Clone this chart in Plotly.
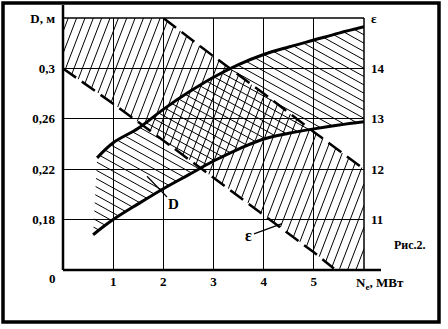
import numpy as np
import plotly.graph_objects as go

# ---- data ----
# D (diameter, m) band: upper and lower solid curves
N_d_upper = [0.68, 1.0, 1.5, 2.0, 2.5, 3.0, 3.5, 4.0, 4.5, 5.0, 5.5, 6.0]
D_upper = [0.229, 0.241, 0.2525, 0.2675, 0.281, 0.293, 0.303, 0.311, 0.317, 0.3225, 0.328, 0.333]
N_d_lower = [0.6, 1.0, 1.5, 2.0, 2.5, 3.0, 3.5, 4.0, 4.5, 5.0, 5.5, 6.0]
D_lower = [0.168, 0.180, 0.1925, 0.2045, 0.2155, 0.2265, 0.236, 0.244, 0.2485, 0.252, 0.255, 0.2576]

# epsilon band: upper and lower dashed lines
N_e_upper = [2.0, 3.0, 4.0, 5.0, 6.0]
E_upper = [15.0, 14.24, 13.5, 12.74, 12.0]
N_e_lower = [0.0, 1.0, 2.0, 3.0, 4.0, 5.0, 5.4]
E_lower = [14.0, 13.3, 12.57, 11.83, 11.1, 10.35, 10.03]

# axes
x_range = [0, 6]
d_range = [0.14, 0.34]
e_range = [10, 15]
x_ticks = [1, 2, 3, 4, 5]
x_labels = ["1", "2", "3", "4", "5"]
x_title = "N<sub>e</sub>, МВт"
d_ticks = [0.18, 0.22, 0.26, 0.30, 0.34]
d_labels = ["0,18", "0,22", "0,26", "0,3", "D, м"]
d_origin_label = "0"
e_ticks = [11, 12, 13, 14, 15]
e_labels = ["11", "12", "13", "14", "ε"]

# ---- layout geometry (pixels) ----
W, H = 448, 329
PL, PR, PT, PB = 63, 364, 18, 270


def to_px(x, y, yr):
    px = PL + (np.asarray(x, float) - x_range[0]) / (x_range[1] - x_range[0]) * (PR - PL)
    py = PB - (np.asarray(y, float) - yr[0]) / (yr[1] - yr[0]) * (PB - PT)
    return px, py


def from_px(px, py, yr):
    x = x_range[0] + (px - PL) / (PR - PL) * (x_range[1] - x_range[0])
    y = yr[0] + (PB - py) / (PB - PT) * (yr[1] - yr[0])
    return x, y


def hatch(xs, ys, yr, angle, spacing):
    px, py = to_px(xs, ys, yr)
    P = np.column_stack([px, py])
    a = np.radians(angle)
    d = np.array([np.cos(a), -np.sin(a)])
    n = np.array([np.sin(a), np.cos(a)])
    proj = P @ n
    start = np.floor(proj.min() / spacing) * spacing
    cs = np.arange(start, proj.max() + spacing, spacing)
    Q = np.vstack([P, P[:1]])
    ox, oy = [], []
    for c in cs:
        pts = []
        for i in range(len(P)):
            s0 = Q[i] @ n - c
            s1 = Q[i + 1] @ n - c
            if (s0 < 0) != (s1 < 0):
                t = s0 / (s0 - s1)
                pts.append(Q[i] + t * (Q[i + 1] - Q[i]))
        pts.sort(key=lambda p: p @ d)
        for j in range(0, len(pts) - 1, 2):
            for p in (pts[j], pts[j + 1]):
                x, y = from_px(p[0], p[1], yr)
                ox.append(float(x))
                oy.append(float(y))
            ox.append(None)
            oy.append(None)
    return ox, oy


def xp(px):
    return (px - PL) / (PR - PL)


def yp(py):
    return (PB - py) / (PB - PT)


fig = go.Figure()

# epsilon band hatch "/"
eps_poly_x = [x_range[0]] + N_e_upper + [x_range[1]] + N_e_lower[::-1]
eps_poly_y = [e_range[1]] + E_upper + [e_range[0]] + E_lower[::-1]
hx, hy = hatch(eps_poly_x, eps_poly_y, e_range, 69, 7.8)
fig.add_trace(go.Scatter(x=hx, y=hy, yaxis="y2", mode="lines",
                         line=dict(color="black", width=1), hoverinfo="skip"))

# D band hatch "\"
d_poly_x = N_d_upper + N_d_lower[::-1]
d_poly_y = D_upper + D_lower[::-1]
hx, hy = hatch(d_poly_x, d_poly_y, d_range, -29, 7.3)
fig.add_trace(go.Scatter(x=hx, y=hy, mode="lines",
                         line=dict(color="black", width=1), hoverinfo="skip"))

# D curves
for xs, ys in ((N_d_upper, D_upper), (N_d_lower, D_lower)):
    fig.add_trace(go.Scatter(x=xs, y=ys, mode="lines",
                             line=dict(color="black", width=3, shape="spline"),
                             hoverinfo="skip"))
# epsilon dashed lines
for xs, ys in ((N_e_upper, E_upper), (N_e_lower, E_lower)):
    fig.add_trace(go.Scatter(x=xs, y=ys, yaxis="y2", mode="lines",
                             line=dict(color="black", width=2.5, dash="16px,7px"),
                             hoverinfo="skip"))

tick_font = dict(family="Liberation Serif", size=13, color="black", weight="bold")

fig.update_layout(
    width=W, height=H,
    margin=dict(l=PL, r=W - PR, t=PT, b=H - PB, pad=0),
    paper_bgcolor="white", plot_bgcolor="white",
    showlegend=False,
    xaxis=dict(range=x_range, tickvals=x_ticks, ticktext=x_labels, showgrid=True,
               gridcolor="black", gridwidth=1.3, zeroline=False, showline=False,
               ticks="", ticklabelstandoff=2, tickfont=tick_font, fixedrange=True),
    yaxis=dict(range=d_range, tickvals=d_ticks, ticktext=d_labels, showgrid=True,
               gridcolor="black", gridwidth=1.3, zeroline=False, showline=False,
               ticks="", ticklabelstandoff=7, tickfont=tick_font, fixedrange=True),
    yaxis2=dict(range=e_range, tickvals=e_ticks, ticktext=e_labels, overlaying="y",
                side="right", anchor="x", showgrid=False, zeroline=False, showline=False,
                ticks="", ticklabelstandoff=6, tickfont=tick_font, fixedrange=True),
)

shapes = [
    # outer frame
    dict(type="rect", xref="paper", yref="paper", x0=xp(3), x1=xp(439), y0=yp(322), y1=yp(3),
         line=dict(color="black", width=3.5)),
    # left axis (extends above the top grid)
    dict(type="line", xref="paper", yref="paper", x0=0, x1=0, y0=0, y1=yp(5),
         line=dict(color="black", width=2.5)),
    # bottom axis (extends past N=6)
    dict(type="line", xref="paper", yref="paper", x0=0, x1=xp(381), y0=0, y1=0,
         line=dict(color="black", width=2.5)),
    # right edge (N = 6)
    dict(type="line", xref="paper", yref="paper", x0=1, x1=1, y0=0, y1=1,
         line=dict(color="black", width=1.5)),
    # top edge
    dict(type="line", xref="paper", yref="paper", x0=0, x1=1, y0=1, y1=1,
         line=dict(color="black", width=1.3)),
]
fig.update_layout(shapes=shapes)

lab_font = dict(family="Liberation Serif", size=13, color="black", weight="bold")
fig.add_annotation(x=xp(380), y=yp(283), xref="paper", yref="paper",
                   xanchor="center", yanchor="middle",
                   text=x_title, showarrow=False, font=lab_font)
fig.add_annotation(x=xp(52), y=yp(278), xref="paper", yref="paper",
                   xanchor="center", yanchor="middle",
                   text=d_origin_label, showarrow=False, font=lab_font)
fig.add_annotation(x=xp(410), y=yp(245), xref="paper", yref="paper",
                   xanchor="center", yanchor="middle",
                   text="Рис.2.", showarrow=False, font=dict(family="Liberation Serif", size=12,
                                                             color="black", weight="bold"))
# curve labels with leader lines
fig.add_annotation(x=1.674, y=0.2144, xref="x", yref="y", text="D",
                   showarrow=True, arrowhead=0, arrowwidth=1.2, arrowcolor="black",
                   ax=27, ay=28, font=dict(family="Liberation Serif", size=15, color="black",
                                           weight="bold"))
fig.add_annotation(x=4.365, y=10.92, xref="x", yref="y2", text="ε",
                   showarrow=True, arrowhead=0, arrowwidth=1.2, arrowcolor="black",
                   ax=-33, ay=12, font=dict(family="Liberation Serif", size=16, color="black",
                                            weight="bold"))

fig.write_html("out.html")
